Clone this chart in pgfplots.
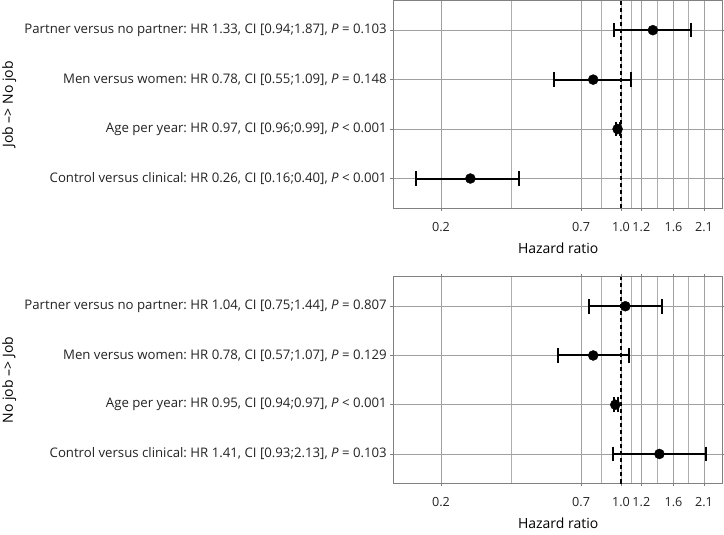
\documentclass[border=0pt]{standalone}
\usepackage{pgfplots}
\pgfplotsset{compat=1.18}
\usepackage{fontspec}
\setmainfont{Open Sans}
\frenchspacing
\definecolor{gridc}{RGB}{160,160,160}
\definecolor{borderc}{RGB}{128,128,128}
\definecolor{txt}{RGB}{35,35,35}
\tikzset{
  ci/.style={black, line width=2bp, mark=|, mark size=7.3bp, mark options={solid, line width=2bp}},
  pt/.style={only marks, mark=*, mark size=5bp, black},
  refl/.style={black, line width=1.2bp, dash pattern=on 4.5bp off 2.5bp},
}
\begin{document}
\begin{tikzpicture}
\useasboundingbox (0,0) rectangle (724bp,535bp);
% ---------- top panel
\begin{axis}[
  scale only axis,
  width=329.7bp,
  xmode=log,
  xmin=0.1305, xmax=2.49,
  ymin=0.4, ymax=4.6,
  xtick={0.2,0.7,1.0,1.2,1.6,2.1},
  xticklabels={0.2,0.7,1.0,1.2,1.6,2.1},
  minor xtick={0.3742,0.8367,1.0954,1.3856,1.8330},
  ytick={1,2,3,4},
  xmajorgrids, xminorgrids, ymajorgrids,
  major grid style={gridc, line width=0.8bp},
  minor grid style={gridc!85, line width=0.7bp},
  axis line style={borderc, line width=1bp},
  tick style={borderc, line width=0.8bp},
  tick align=outside,
  major tick length=3bp,
  minor tick length=0bp,
  /pgf/number format/assume math mode=true,
  yticklabel style={font=\fontsize{13.2bp}{15bp}\selectfont, text=txt},
  xticklabel style={font=\fontsize{12.6bp}{14bp}\selectfont, text=txt, yshift=-7.2bp},
  xlabel={Hazard ratio},
  xlabel style={font=\fontsize{14bp}{16bp}\selectfont, at={(axis description cs:0.5,0)}, anchor=north, yshift=-30.7bp},
  ylabel style={font=\fontsize{14bp}{16bp}\selectfont, at={(axis description cs:-1.1331,0.5)}, anchor=south},
  at={(393.3bp,326.8bp)}, anchor=south west, height=207.7bp,
  ylabel={Job \textendash> No job},
  yticklabels={
    {Control versus clinical: HR 0.26, CI [0.16;0.40], \textit{P} < 0.001},
    {Age per year: HR 0.97, CI [0.96;0.99], \textit{P} < 0.001},
    {Men versus women: HR 0.78, CI [0.55;1.09], \textit{P} = 0.148},
    {Partner versus no partner: HR 1.33, CI [0.94;1.87], \textit{P} = 0.103}},
]
\addplot[refl] coordinates {(1,0.4) (1,4.6)};
\addplot[ci] coordinates {(0.94,4) (1.87,4)};
\addplot[ci] coordinates {(0.55,3) (1.09,3)};
\addplot[ci] coordinates {(0.96,2) (0.99,2)};
\addplot[ci] coordinates {(0.16,1) (0.40,1)};
\addplot[pt] coordinates {(1.33,4) (0.78,3) (0.97,2) (0.26,1)};
\end{axis}
% ---------- bottom panel
\begin{axis}[
  scale only axis,
  width=329.7bp,
  xmode=log,
  xmin=0.1305, xmax=2.49,
  ymin=0.4, ymax=4.6,
  xtick={0.2,0.7,1.0,1.2,1.6,2.1},
  xticklabels={0.2,0.7,1.0,1.2,1.6,2.1},
  minor xtick={0.3742,0.8367,1.0954,1.3856,1.8330},
  ytick={1,2,3,4},
  xmajorgrids, xminorgrids, ymajorgrids,
  major grid style={gridc, line width=0.8bp},
  minor grid style={gridc!85, line width=0.7bp},
  axis line style={borderc, line width=1bp},
  tick style={borderc, line width=0.8bp},
  tick align=outside,
  major tick length=3bp,
  minor tick length=0bp,
  /pgf/number format/assume math mode=true,
  yticklabel style={font=\fontsize{13.2bp}{15bp}\selectfont, text=txt},
  xticklabel style={font=\fontsize{12.6bp}{14bp}\selectfont, text=txt, yshift=-7.2bp},
  xlabel={Hazard ratio},
  xlabel style={font=\fontsize{14bp}{16bp}\selectfont, at={(axis description cs:0.5,0)}, anchor=north, yshift=-30.7bp},
  ylabel style={font=\fontsize{14bp}{16bp}\selectfont, at={(axis description cs:-1.1331,0.5)}, anchor=south},
  at={(393.3bp,51.5bp)}, anchor=south west, height=206.8bp,
  ylabel={No job \textendash> Job},
  yticklabels={
    {Control versus clinical: HR 1.41, CI [0.93;2.13], \textit{P} = 0.103},
    {Age per year: HR 0.95, CI [0.94;0.97], \textit{P} < 0.001},
    {Men versus women: HR 0.78, CI [0.57;1.07], \textit{P} = 0.129},
    {Partner versus no partner: HR 1.04, CI [0.75;1.44], \textit{P} = 0.807}},
]
\addplot[refl] coordinates {(1,0.4) (1,4.6)};
\addplot[ci] coordinates {(0.75,4) (1.44,4)};
\addplot[ci] coordinates {(0.57,3) (1.07,3)};
\addplot[ci] coordinates {(0.94,2) (0.97,2)};
\addplot[ci] coordinates {(0.93,1) (2.13,1)};
\addplot[pt] coordinates {(1.04,4) (0.78,3) (0.95,2) (1.41,1)};
\end{axis}
\end{tikzpicture}
\end{document}
